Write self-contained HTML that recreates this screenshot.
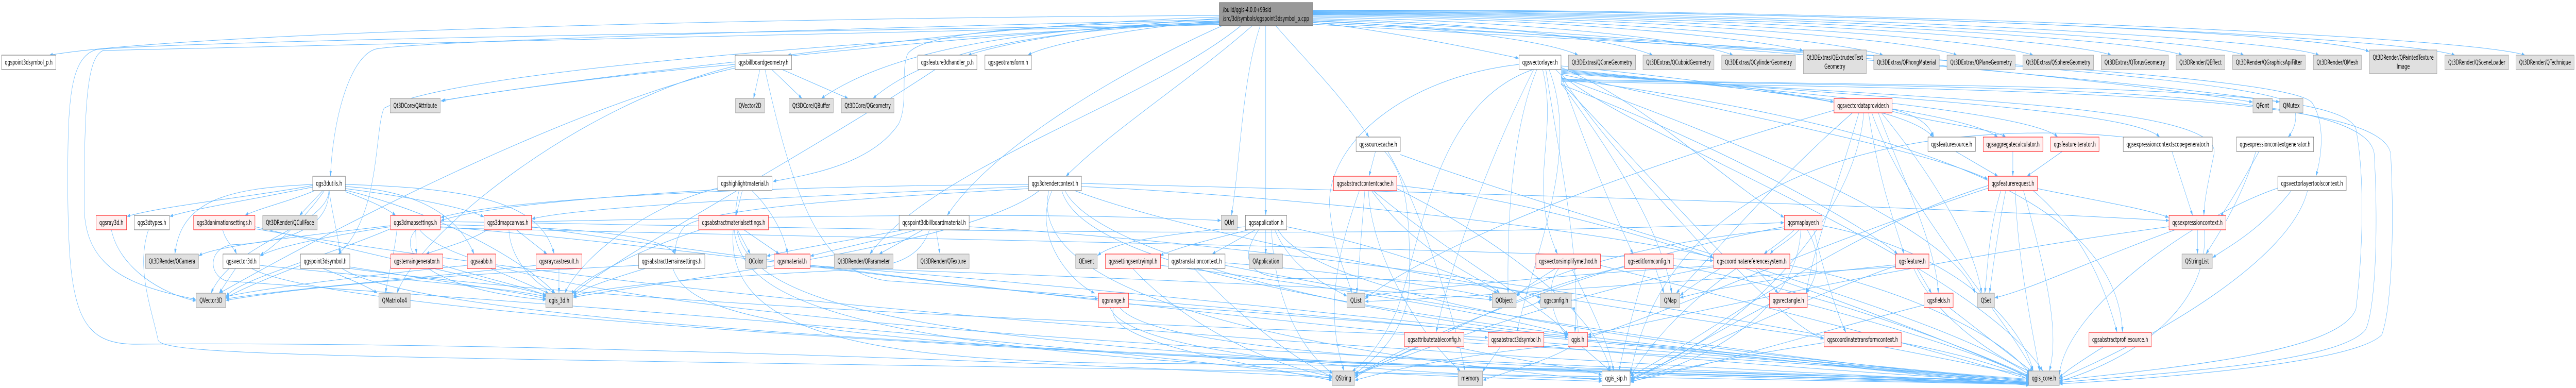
<!DOCTYPE html>
<html>
<head>
<meta charset="utf-8">
<style>
html,body{margin:0;padding:0;background:#fff;width:100%;height:100%;overflow:hidden;}
svg{display:block;width:100vw;height:100vh;}
.w{fill:#ffffff;stroke:#666666;stroke-width:1;}
.g{fill:#e0e0e0;stroke:#999999;stroke-width:1;}
.r{fill:#fff0f0;stroke:#ff0000;stroke-width:1;}
.root{fill:#999999;stroke:#666666;stroke-width:1;}
text{font-family:"DejaVu Sans","Liberation Sans",sans-serif;font-size:13px;fill:#000;}
.e path{fill:none;stroke:#63b8ff;stroke-width:1;}
</style>
</head>
<body>
<svg viewBox="0 0 7982 753" preserveAspectRatio="none" xmlns="http://www.w3.org/2000/svg">
<defs>
<marker id="a" viewBox="0 0 10 7" refX="10" refY="3.5" markerWidth="10" markerHeight="7" markerUnits="userSpaceOnUse" orient="auto"><path d="M0,0L10,3.5L0,7z" fill="#63b8ff"/></marker>
</defs>
<g class="e" marker-end="url(#a)">
<!-- root edges -->
<path d="M3778,30 C2000,36 500,70 153,107"/>
<path d="M3778,33 C3200,45 2650,90 2440,107"/>
<path d="M3778,36 C3400,50 3100,85 3000,107"/>
<path d="M3778,40 C3500,55 3250,85 3185,107"/>
<path d="M3778,38 C2600,55 1300,80 1165,95 C1080,110 1030,240 1024,342"/>
<path d="M3778,44 C2600,80 1400,140 1190,210 C1160,250 1180,420 1048,493"/>
<path d="M3778,42 C3000,65 1900,140 1370,195"/>
<path d="M3778,41 C3200,48 2860,62 2812,105 C2790,140 2815,200 2785,240 C2700,320 2500,340 2395,352"/>
<path d="M3778,43 C3300,52 2800,80 2545,191"/>
<path d="M3778,45 C3300,56 2900,85 2705,191"/>
<path d="M3787,50 C3500,130 3080,280 2935,418"/>
<path d="M3845,50 C3550,200 2900,320 2695,493"/>
<path d="M3880,50 C3700,150 3450,250 3303,342"/>
<path d="M3905,50 C3850,150 3845,300 3816,418"/>
<path d="M3922,50 L3922,418"/>
<path d="M3953,50 C4050,120 4150,180 4242,266"/>
<path d="M4068,43 C4300,60 4550,92 4706,113"/>
<path d="M4068,40 C4400,50 4780,75 4890,107"/>
<path d="M4068,36 C4500,42 4980,70 5121,107"/>
<path d="M4068,33 C4600,38 5220,70 5370,107"/>
<path d="M4068,31 C4700,34 5350,65 5587,98"/>
<path d="M4068,29 C4800,31 5650,70 5835,107"/>
<path d="M4068,28 C4900,28 5900,70 6064,107"/>
<path d="M4068,27 C5000,26 6120,70 6300,107"/>
<path d="M4068,26 C5100,24 6370,70 6542,107"/>
<path d="M4068,25 C5200,22 6600,70 6762,107"/>
<path d="M4068,24 C5300,20 6800,70 6953,107"/>
<path d="M4068,23 C5400,18 7030,70 7186,107"/>
<path d="M4068,22 C5500,16 7180,60 7341,100"/>
<path d="M4068,21 C5600,15 7430,70 7607,107"/>
<path d="M4068,20 C5700,14 7650,70 7824,107"/>
<path d="M4068,38 C5000,60 6500,150 6980,198"/>
<path d="M4068,41 C5000,70 6700,160 7063,198"/>
<path d="M4068,44 C5500,90 7050,150 7105,205 C7125,230 7105,255 7090,266"/>
<path d="M4068,47 C5500,100 7100,140 7165,200 C7205,240 7195,300 7176,342"/>
<path d="M3778,47 C2000,65 600,80 300,96 C215,110 210,200 210,350 C210,600 240,668 420,668 C1500,662 3200,700 4127,733"/>
<path d="M3778,48 C2000,72 800,85 320,98 C270,110 261,200 261,400 C261,520 400,555 607,581"/>
<!-- qgsvectorlayer.h -->
<path d="M4707,125 C4350,150 4110,280 4120,400 C4130,490 4180,540 4188,569"/>
<path d="M4750,135 C4450,200 4410,450 4330,600 C4280,670 4220,710 4190,720"/>
<path d="M4752,135 C4620,300 4500,500 4450,645"/>
<path d="M4762,135 C4680,260 4670,450 4673,569"/>
<path d="M4780,135 C4830,260 4730,360 4826,493"/>
<path d="M4790,135 C4830,300 4900,500 4880,645"/>
<path d="M4837,128 C5200,150 5500,175 5682,198"/>
<path d="M4837,131 C5100,200 5300,330 5528,422"/>
<path d="M4837,134 C5400,170 5900,200 5990,266"/>
<path d="M4837,136 C5500,175 6100,220 6190,266"/>
<path d="M4837,138 C5600,180 6300,220 6376,266"/>
<path d="M4837,140 C5700,185 6600,210 6692,266"/>
<path d="M4837,142 C5800,190 6900,195 6860,300 C6840,360 6830,390 6829,418"/>
<path d="M4800,135 C4900,300 4750,500 4700,645"/>
<path d="M4820,135 C5000,250 6100,500 6330,720"/>
<path d="M4837,144 C5600,250 6000,300 6160,348"/>
<path d="M4837,146 C4950,350 5030,450 5060,493"/>
<path d="M4837,148 C5000,300 5200,420 5309,502"/>
<path d="M4837,150 C5500,300 6050,450 6120,569"/>
<path d="M4837,152 C6000,250 6560,400 6577,645"/>
<path d="M4837,154 C6200,170 7250,160 7300,250 C7330,350 7320,500 7300,600 C7250,680 6800,710 6381,738"/>
<path d="M4837,156 C6300,170 7340,170 7357,300 C7370,450 7360,600 7330,640 C7250,700 6800,720 6381,742"/>
<path d="M4837,158 C6300,175 7390,180 7408,300 C7420,450 7410,600 7380,650 C7300,700 6800,730 6381,745"/>
<path d="M4837,160 C5200,400 5500,620 5651,658"/>
<path d="M4837,162 C5000,300 5150,450 5180,569"/>
<path d="M4837,164 C5400,300 5800,450 5880,493"/>
<!-- qgsvectordataprovider.h -->
<path d="M5740,219 C5500,350 5300,500 5194,569"/>
<path d="M5790,219 C5820,350 5880,450 5900,493"/>
<path d="M5863,212 C5950,225 5980,245 5992,266"/>
<path d="M5775,219 C5750,420 5400,650 5052,734"/>
<path d="M5683,214 C5200,300 4500,450 4229,580"/>
<path d="M5800,219 C5900,400 6200,600 6300,720"/>
<path d="M5820,219 C5900,350 6000,480 6006,569"/>
<path d="M5760,219 C5700,350 5620,480 5596,569"/>
<path d="M5830,219 C6000,350 6120,480 6140,569"/>
<path d="M5863,216 C6000,240 6180,250 6215,266"/>
<!-- qgsmaplayer.h -->
<path d="M5560,446 C5520,470 5480,485 5466,493"/>
<path d="M5575,446 C5540,470 5500,480 5485,493"/>
<path d="M5600,446 C5650,500 5630,540 5596,569"/>
<path d="M5646,438 C6000,480 6250,600 6300,720"/>
<path d="M5580,446 C5570,600 5300,700 5052,738"/>
<path d="M5620,446 C5660,550 5700,620 5720,645"/>
<path d="M5529,440 C5000,500 4400,650 4198,730"/>
<path d="M5529,444 C5100,470 4800,530 4699,572"/>
<!-- crs -->
<path d="M5330,521 C5280,540 5230,560 5206,574"/>
<path d="M5440,521 L5510,569"/>
<path d="M5380,521 C5200,600 5100,680 5052,730"/>
<path d="M5546,515 C5900,560 6200,650 6290,725"/>
<path d="M5310,518 C4900,560 4400,680 4198,728"/>
<path d="M5310,516 C4900,530 4400,560 4230,575"/>
<!-- editformconfig -->
<path d="M5130,521 L5156,569"/>
<path d="M5100,521 C5060,600 5030,680 5016,720"/>
<path d="M5185,515 C5600,560 6000,650 6290,730"/>
<path d="M5034,518 C4700,560 4400,680 4198,726"/>
<!-- feature -->
<path d="M5940,521 L5985,569"/>
<path d="M5874,516 C5500,600 5200,700 5052,736"/>
<path d="M5930,521 C6000,620 6200,700 6295,722"/>
<path d="M5874,514 C5600,530 5300,560 5206,578"/>
<path d="M5874,518 C5300,540 4500,580 4230,585"/>
<!-- rect, fields, ctc -->
<path d="M5483,590 C5300,650 5150,710 5052,738"/>
<path d="M5600,590 C5900,640 6200,700 6290,735"/>
<path d="M6040,597 C6150,650 6250,700 6300,722"/>
<path d="M5962,592 C5600,650 5300,710 5052,740"/>
<path d="M5891,665 C6100,690 6250,720 6287,738"/>
<path d="M5652,665 C5400,690 5150,720 5052,742"/>
<!-- feature request etc -->
<path d="M6200,370 C6160,450 6160,520 6150,569"/>
<path d="M6215,370 C6190,450 6175,520 6165,569"/>
<path d="M6313,366 C6500,390 6650,405 6720,422"/>
<path d="M6245,370 C6250,500 6300,650 6320,720"/>
<path d="M6270,370 C6350,550 6380,650 6350,720"/>
<path d="M6161,360 C5700,450 5300,650 5052,730"/>
<path d="M6161,365 C5600,480 5200,600 4920,655"/>
<path d="M6300,370 C6450,450 6520,550 6560,645"/>
<path d="M6237,294 L6237,342"/>
<path d="M6390,294 L6281,342"/>
<path d="M6060,294 L6191,342"/>
<path d="M6730,294 L6794,418"/>
<path d="M7000,294 C6950,350 6905,400 6880,420"/>
<path d="M6990,294 C6950,380 6880,450 6835,493"/>
<path d="M7150,370 C7100,500 6700,650 6381,735"/>
<path d="M7100,370 C7000,450 6900,480 6856,500"/>
<path d="M7058,365 C6800,420 6400,600 6381,728"/>
<path d="M6809,446 L6809,493"/>
<path d="M6740,446 C6500,500 6300,560 6181,578"/>
<path d="M6830,446 C6850,600 6600,700 6381,740"/>
<path d="M6721,440 C6000,500 5300,600 4920,650"/>
<path d="M6520,672 C6450,700 6400,720 6381,733"/>
<path d="M6580,266 C6200,240 5200,250 5052,725"/>
<!-- source cache / content cache -->
<path d="M4262,294 L4242,342"/>
<path d="M4290,294 C4360,340 4370,420 4367,550 C4360,650 4250,700 4198,726"/>
<path d="M4339,300 C5000,450 6000,600 6290,728"/>
<path d="M4300,294 C4400,400 4500,600 4540,720"/>
<path d="M4229,370 L4204,569"/>
<path d="M4250,370 C4400,500 4600,540 4647,569"/>
<path d="M4212,370 C4150,480 4100,600 4165,720"/>
<path d="M4328,360 C5000,400 6000,650 6290,732"/>
<path d="M4240,370 C4250,500 4400,650 4525,720"/>
<path d="M4255,370 C4500,500 4800,600 4860,650"/>
<path d="M4328,366 C4600,450 4950,600 4990,720"/>
<!-- qgis.h and low nodes -->
<path d="M4860,668 C4500,690 4300,720 4198,738"/>
<path d="M4870,672 C4800,700 4650,725 4595,738"/>
<path d="M4900,672 L4990,720"/>
<path d="M4919,660 C5500,690 6000,730 6287,742"/>
<path d="M4820,521 C4760,545 4720,560 4699,575"/>
<path d="M4830,521 C4780,560 4820,630 4855,651"/>
<path d="M4870,521 C4950,620 4990,680 5000,720"/>
<path d="M4959,515 C5500,600 6000,680 6287,736"/>
<path d="M4400,672 C4300,700 4220,720 4198,734"/>
<path d="M4536,665 C5200,690 6000,720 6287,744"/>
<path d="M4500,672 C4700,700 4900,715 4964,728"/>
<path d="M4650,672 C4620,700 4600,715 4594,722"/>
<path d="M4784,665 C5300,690 6000,720 6287,738"/>
<path d="M4720,597 C4760,590 4770,585 4773,580"/>
<path d="M4890,645 C4890,620 4880,600 4870,597"/>
<!-- qgsapplication -->
<path d="M3859,440 C3600,455 3450,470 3401,496"/>
<path d="M3870,446 C3750,465 3650,480 3595,496"/>
<path d="M3890,446 L3756,493"/>
<path d="M3922,446 L3922,493"/>
<path d="M3987,440 C4300,480 4550,540 4640,569"/>
<path d="M3960,446 C4100,600 5500,700 6287,736"/>
<path d="M3940,446 C3950,600 4050,690 4130,725"/>
<path d="M3950,446 C4000,520 4100,550 4174,575"/>
<path d="M3900,446 C3820,520 3900,545 4050,540 C4500,540 4700,560 4774,578"/>
<path d="M3596,515 C4200,560 4700,620 4860,650"/>
<path d="M3510,521 C3700,650 4000,720 4128,730"/>
<path d="M3796,515 C4500,600 5500,700 6287,740"/>
<path d="M3700,521 C3900,650 4050,710 4130,732"/>
<path d="M3796,510 C4200,530 4500,560 4625,578"/>
<path d="M3497,590 C4000,610 4600,640 4859,655"/>
<path d="M3470,597 C3600,700 5000,720 6287,740"/>
<path d="M3440,597 C3500,700 4500,730 4964,735"/>
<path d="M3450,597 C3420,660 3800,700 4128,738"/>
<!-- qgs3drendercontext -->
<path d="M3260,370 C3200,450 3300,540 3392,569"/>
<path d="M3187,358 C2500,360 1600,380 1366,422"/>
<path d="M3290,370 C3350,500 4000,620 6287,738"/>
<path d="M3220,370 C3000,480 2000,550 1776,577"/>
<path d="M3351,362 C4000,380 5000,450 5309,500"/>
<path d="M3300,370 C3400,500 4300,620 4859,652"/>
<path d="M3187,362 C2500,380 1800,400 1648,425"/>
<path d="M3330,370 C3800,480 5000,600 5651,656"/>
<path d="M3250,370 C3200,500 3500,650 4964,738"/>
<path d="M3187,366 C2800,380 2200,400 2120,440 C2095,460 2092,480 2092,493"/>
<path d="M3351,356 C4200,370 5600,390 6721,428"/>
<!-- billboard material -->
<path d="M2800,446 C2600,470 2450,485 2376,497"/>
<path d="M2840,446 C2700,470 2580,485 2511,497"/>
<path d="M2860,446 L2724,493"/>
<path d="M2900,446 L2913,493"/>
<path d="M2880,446 C2850,500 2780,520 2600,525 C2100,540 1850,560 1776,575"/>
<path d="M3003,440 C3800,470 5000,560 6287,730"/>
<!-- highlight material -->
<path d="M2300,370 L2281,418"/>
<path d="M2330,370 C2380,400 2430,450 2440,493"/>
<path d="M2224,365 C2000,400 1800,500 1750,569"/>
<path d="M2290,370 C2200,600 2600,700 6287,745"/>
<path d="M2224,368 C1900,380 1500,400 1366,428"/>
<!-- abstract material settings -->
<path d="M2285,446 L2325,493"/>
<path d="M2305,446 L2415,493"/>
<path d="M2170,446 C2000,480 1800,540 1770,572"/>
<path d="M2272,446 C2250,620 2550,700 3500,705 C4500,710 5500,720 6287,746"/>
<path d="M2275,446 C2300,600 2700,700 4964,740"/>
<path d="M2000,521 C1900,540 1800,560 1776,575"/>
<path d="M2085,521 C2150,640 2600,690 6287,742"/>
<path d="M1979,515 C1500,530 1000,550 700,583"/>
<path d="M2510,515 C3500,560 5500,700 6287,748"/>
<path d="M2510,518 C3500,540 4300,560 4625,582"/>
<!-- billboard geometry -->
<path d="M2355,134 L2335,191"/>
<path d="M2390,134 L2485,191"/>
<path d="M2420,134 L2628,191"/>
<path d="M2278,125 C2000,140 1600,170 1366,196"/>
<path d="M2278,132 C1800,200 1100,420 680,569"/>
<path d="M2370,134 C2470,420 2560,530 2750,545 C4000,600 5500,700 6287,745"/>
<path d="M2278,128 C1800,200 1300,450 1230,569"/>
<path d="M2900,134 C2500,300 1900,500 1776,571"/>
<!-- qgs3dutils -->
<path d="M969,360 C800,380 500,400 393,420"/>
<path d="M969,363 C800,385 600,405 526,420"/>
<path d="M975,370 C900,390 800,405 759,418"/>
<path d="M1000,370 L928,418"/>
<path d="M969,358 C700,365 560,390 542,493"/>
<path d="M1005,370 C950,420 850,480 806,495"/>
<path d="M1019,370 C1015,440 720,470 654,569"/>
<path d="M1070,372 C1150,390 1200,405 1226,418"/>
<path d="M1070,366 C1300,385 1450,405 1499,421"/>
<path d="M1070,362 C1300,370 1420,420 1469,493"/>
<path d="M1070,358 C1500,365 1680,400 1717,493"/>
<path d="M1070,369 C1400,420 1650,520 1720,569"/>
<path d="M1020,370 C1030,420 1050,460 1053,493"/>
<path d="M1019,370 C1020,440 900,470 720,475 C650,480 640,530 700,545 C1000,560 3000,640 4128,734"/>
<!-- left group -->
<path d="M690,446 C700,470 725,480 733,493"/>
<path d="M790,440 C1200,500 1600,560 1692,572"/>
<path d="M790,444 C1500,520 3000,650 6287,744"/>
<path d="M345,446 C370,520 500,570 607,584"/>
<path d="M460,446 C420,520 470,600 490,660 C505,700 1500,690 6287,746"/>
<path d="M730,521 L679,569"/>
<path d="M805,515 C1200,540 1600,560 1692,576"/>
<path d="M780,521 C1000,600 3000,700 6287,743"/>
<path d="M1000,521 C1100,545 1150,560 1169,569"/>
<path d="M1084,518 C1300,540 1600,565 1692,580"/>
<path d="M931,515 C850,535 750,560 700,578"/>
<path d="M1060,521 C1300,620 3000,690 6287,745"/>
<path d="M1084,521 C2000,600 4000,640 4611,655"/>
<path d="M1288,446 L1290,493"/>
<path d="M1290,446 C1230,480 1300,560 1692,582"/>
<path d="M1210,440 C1000,460 850,480 806,497"/>
<path d="M1210,438 C900,460 650,480 616,497"/>
<path d="M1364,440 C2000,470 3000,560 3403,580"/>
<path d="M1364,436 C1700,440 2050,450 2092,493"/>
<path d="M1230,446 C1220,500 1200,540 1195,569"/>
<path d="M1300,446 C1500,600 3500,690 6287,740"/>
<path d="M1364,442 C2500,460 4500,480 5309,506"/>
<path d="M1210,444 C1000,500 750,540 700,575"/>
<path d="M1600,446 L1695,493"/>
<path d="M1577,446 C1580,500 1650,550 1720,569"/>
<path d="M1510,446 C1450,470 1350,485 1320,493"/>
<path d="M1647,440 C2500,520 4500,680 6287,742"/>
<path d="M1372,515 C1500,540 1650,560 1692,574"/>
<path d="M1520,521 L1700,569"/>
<path d="M1448,515 C1200,530 800,560 700,576"/>
<path d="M1732,521 L1732,569"/>
<path d="M1661,515 C1300,540 900,560 700,580"/>
<path d="M1364,430 C2500,440 4000,470 5528,432"/>
<path d="M1647,430 C2500,420 3200,410 3783,428"/>
</g>

<!-- root -->
<rect class="root" x="3778" y="5" width="290" height="45"/>
<text x="3789" y="23.5" textLength="150" lengthAdjust="spacingAndGlyphs">/build/qgis-4.0.0+99sid</text>
<text x="3789" y="40.5" textLength="267" lengthAdjust="spacingAndGlyphs">/src/3d/symbols/qgspoint3dsymbol_p.cpp</text>

<g text-anchor="middle">
<!-- rank A -->
<rect class="w" x="5" y="107" width="168" height="28"/><text x="89" y="125.5" textLength="148" lengthAdjust="spacingAndGlyphs">qgspoint3dsymbol_p.h</text>
<rect class="w" x="2278" y="107" width="175" height="28"/><text x="2365.5" y="125.5" textLength="155" lengthAdjust="spacingAndGlyphs">qgsbillboardgeometry.h</text>
<rect class="w" x="2844" y="107" width="183" height="28"/><text x="2935.5" y="125.5" textLength="163" lengthAdjust="spacingAndGlyphs">qgsfeature3dhandler_p.h</text>
<rect class="w" x="3052" y="107" width="144" height="28"/><text x="3124" y="125.5" textLength="124" lengthAdjust="spacingAndGlyphs">qgsgeotransform.h</text>
<rect class="w" x="4707" y="107" width="130" height="28"/><text x="4772" y="125.5" textLength="110" lengthAdjust="spacingAndGlyphs">qgsvectorlayer.h</text>
<rect class="g" x="4860" y="107" width="208" height="28"/><text x="4964" y="125.5" textLength="188" lengthAdjust="spacingAndGlyphs">Qt3DExtras/QConeGeometry</text>
<rect class="g" x="5091" y="107" width="220" height="28"/><text x="5201" y="125.5" textLength="200" lengthAdjust="spacingAndGlyphs">Qt3DExtras/QCuboidGeometry</text>
<rect class="g" x="5335" y="107" width="228" height="28"/><text x="5449" y="125.5" textLength="208" lengthAdjust="spacingAndGlyphs">Qt3DExtras/QCylinderGeometry</text>
<rect class="g" x="5588" y="97" width="195" height="46"/><text x="5685.5" y="116" textLength="175" lengthAdjust="spacingAndGlyphs">Qt3DExtras/QExtrudedText</text><text x="5685.5" y="133.5">Geometry</text>
<rect class="g" x="5806" y="107" width="203" height="28"/><text x="5907.5" y="125.5" textLength="183" lengthAdjust="spacingAndGlyphs">Qt3DExtras/QPhongMaterial</text>
<rect class="g" x="6033" y="107" width="211" height="28"/><text x="6138.5" y="125.5" textLength="191" lengthAdjust="spacingAndGlyphs">Qt3DExtras/QPlaneGeometry</text>
<rect class="g" x="6268" y="107" width="219" height="28"/><text x="6377.5" y="125.5" textLength="199" lengthAdjust="spacingAndGlyphs">Qt3DExtras/QSphereGeometry</text>
<rect class="g" x="6511" y="107" width="208" height="28"/><text x="6615" y="125.5" textLength="188" lengthAdjust="spacingAndGlyphs">Qt3DExtras/QTorusGeometry</text>
<rect class="g" x="6743" y="107" width="151" height="28"/><text x="6818.5" y="125.5" textLength="131" lengthAdjust="spacingAndGlyphs">Qt3DRender/QEffect</text>
<rect class="g" x="6918" y="107" width="225" height="28"/><text x="7030.5" y="125.5" textLength="205" lengthAdjust="spacingAndGlyphs">Qt3DRender/QGraphicsApiFilter</text>
<rect class="g" x="7168" y="107" width="149" height="28"/><text x="7242.5" y="125.5" textLength="129" lengthAdjust="spacingAndGlyphs">Qt3DRender/QMesh</text>
<rect class="g" x="7342" y="97" width="209" height="46"/><text x="7446.5" y="116" textLength="189" lengthAdjust="spacingAndGlyphs">Qt3DRender/QPaintedTexture</text><text x="7446.5" y="133.5">Image</text>
<rect class="g" x="7576" y="107" width="197" height="28"/><text x="7674.5" y="125.5" textLength="177" lengthAdjust="spacingAndGlyphs">Qt3DRender/QSceneLoader</text>
<rect class="g" x="7796" y="107" width="180" height="28"/><text x="7886" y="125.5" textLength="160" lengthAdjust="spacingAndGlyphs">Qt3DRender/QTechnique</text>

<!-- rank B -->
<rect class="g" x="1209" y="191" width="155" height="28"/><text x="1286.5" y="209.5" textLength="135" lengthAdjust="spacingAndGlyphs">Qt3DCore/QAttribute</text>
<rect class="g" x="2279" y="191" width="90" height="28"/><text x="2324" y="209.5" textLength="70" lengthAdjust="spacingAndGlyphs">QVector2D</text>
<rect class="g" x="2445" y="191" width="137" height="28"/><text x="2513.5" y="209.5" textLength="117" lengthAdjust="spacingAndGlyphs">Qt3DCore/QBuffer</text>
<rect class="g" x="2607" y="191" width="163" height="28"/><text x="2688.5" y="209.5" textLength="143" lengthAdjust="spacingAndGlyphs">Qt3DCore/QGeometry</text>
<rect class="r" x="5683" y="191" width="180" height="28"/><text x="5773" y="209.5" textLength="160" lengthAdjust="spacingAndGlyphs">qgsvectordataprovider.h</text>
<rect class="g" x="6981" y="191" width="60" height="28"/><text x="7011" y="209.5" textLength="40" lengthAdjust="spacingAndGlyphs">QFont</text>
<rect class="g" x="7064" y="191" width="72" height="28"/><text x="7100" y="209.5" textLength="52" lengthAdjust="spacingAndGlyphs">QMutex</text>

<!-- rank C -->
<rect class="w" x="4202" y="266" width="137" height="28"/><text x="4270.5" y="284.5" textLength="117" lengthAdjust="spacingAndGlyphs">qgssourcecache.h</text>
<rect class="w" x="5974" y="266" width="147" height="28"/><text x="6047.5" y="284.5" textLength="127" lengthAdjust="spacingAndGlyphs">qgsfeaturesource.h</text>
<rect class="r" x="6145" y="266" width="185" height="28"/><text x="6237.5" y="284.5" textLength="165" lengthAdjust="spacingAndGlyphs">qgsaggregatecalculator.h</text>
<rect class="r" x="6354" y="266" width="150" height="28"/><text x="6429" y="284.5" textLength="130" lengthAdjust="spacingAndGlyphs">qgsfeatureiterator.h</text>
<rect class="w" x="6579" y="266" width="276" height="28"/><text x="6717" y="284.5" textLength="256" lengthAdjust="spacingAndGlyphs">qgsexpressioncontextscopegenerator.h</text>
<rect class="w" x="6930" y="266" width="239" height="28"/><text x="7049.5" y="284.5" textLength="219" lengthAdjust="spacingAndGlyphs">qgsexpressioncontextgenerator.h</text>

<!-- rank D -->
<rect class="w" x="969" y="342" width="101" height="28"/><text x="1019.5" y="360.5" textLength="81" lengthAdjust="spacingAndGlyphs">qgs3dutils.h</text>
<rect class="w" x="2224" y="342" width="168" height="28"/><text x="2308" y="360.5" textLength="148" lengthAdjust="spacingAndGlyphs">qgshighlightmaterial.h</text>
<rect class="w" x="3187" y="342" width="164" height="28"/><text x="3269" y="360.5" textLength="144" lengthAdjust="spacingAndGlyphs">qgs3drendercontext.h</text>
<rect class="r" x="4132" y="342" width="196" height="28"/><text x="4230" y="360.5" textLength="176" lengthAdjust="spacingAndGlyphs">qgsabstractcontentcache.h</text>
<rect class="r" x="6161" y="342" width="152" height="28"/><text x="6237" y="360.5" textLength="132" lengthAdjust="spacingAndGlyphs">qgsfeaturerequest.h</text>
<rect class="w" x="7058" y="342" width="212" height="28"/><text x="7164" y="360.5" textLength="192" lengthAdjust="spacingAndGlyphs">qgsvectorlayertoolscontext.h</text>

<!-- rank E -->
<rect class="r" x="298" y="418" width="94" height="28"/><text x="345" y="436.5" textLength="74" lengthAdjust="spacingAndGlyphs">qgsray3d.h</text>
<rect class="w" x="416" y="418" width="109" height="28"/><text x="470.5" y="436.5" textLength="89" lengthAdjust="spacingAndGlyphs">qgs3dtypes.h</text>
<rect class="r" x="600" y="418" width="190" height="28"/><text x="695" y="436.5" textLength="170" lengthAdjust="spacingAndGlyphs">qgs3danimationsettings.h</text>
<rect class="g" x="814" y="418" width="169" height="28"/><text x="898.5" y="436.5" textLength="149" lengthAdjust="spacingAndGlyphs">Qt3DRender/QCullFace</text>
<rect class="r" x="1210" y="418" width="154" height="28"/><text x="1287" y="436.5" textLength="134" lengthAdjust="spacingAndGlyphs">qgs3dmapsettings.h</text>
<rect class="r" x="1500" y="418" width="147" height="28"/><text x="1573.5" y="436.5" textLength="127" lengthAdjust="spacingAndGlyphs">qgs3dmapcanvas.h</text>
<rect class="r" x="2165" y="418" width="216" height="28"/><text x="2273" y="436.5" textLength="196" lengthAdjust="spacingAndGlyphs">qgsabstractmaterialsettings.h</text>
<rect class="w" x="2786" y="418" width="217" height="28"/><text x="2894.5" y="436.5" textLength="197" lengthAdjust="spacingAndGlyphs">qgspoint3dbillboardmaterial.h</text>
<rect class="g" x="3784" y="418" width="50" height="28"/><text x="3809" y="436.5" textLength="30" lengthAdjust="spacingAndGlyphs">QUrl</text>
<rect class="w" x="3859" y="418" width="128" height="28"/><text x="3923" y="436.5" textLength="108" lengthAdjust="spacingAndGlyphs">qgsapplication.h</text>
<rect class="r" x="5529" y="418" width="117" height="28"/><text x="5587.5" y="436.5" textLength="97" lengthAdjust="spacingAndGlyphs">qgsmaplayer.h</text>
<rect class="r" x="6721" y="418" width="176" height="28"/><text x="6809" y="436.5" textLength="156" lengthAdjust="spacingAndGlyphs">qgsexpressioncontext.h</text>

<!-- rank F -->
<rect class="g" x="451" y="493" width="164" height="28"/><text x="533" y="511.5" textLength="144" lengthAdjust="spacingAndGlyphs">Qt3DRender/QCamera</text>
<rect class="w" x="691" y="493" width="114" height="28"/><text x="748" y="511.5" textLength="94" lengthAdjust="spacingAndGlyphs">qgsvector3d.h</text>
<rect class="w" x="931" y="493" width="153" height="28"/><text x="1007.5" y="511.5" textLength="133" lengthAdjust="spacingAndGlyphs">qgspoint3dsymbol.h</text>
<rect class="r" x="1211" y="493" width="161" height="28"/><text x="1291.5" y="511.5" textLength="141" lengthAdjust="spacingAndGlyphs">qgsterraingenerator.h</text>
<rect class="r" x="1448" y="493" width="88" height="28"/><text x="1492" y="511.5" textLength="68" lengthAdjust="spacingAndGlyphs">qgsaabb.h</text>
<rect class="r" x="1661" y="493" width="142" height="28"/><text x="1732" y="511.5" textLength="122" lengthAdjust="spacingAndGlyphs">qgsraycastresult.h</text>
<rect class="w" x="1979" y="493" width="205" height="28"/><text x="2081.5" y="511.5" textLength="185" lengthAdjust="spacingAndGlyphs">qgsabstractterrainsettings.h</text>
<rect class="g" x="2310" y="493" width="65" height="28"/><text x="2342.5" y="511.5" textLength="45" lengthAdjust="spacingAndGlyphs">QColor</text>
<rect class="r" x="2399" y="493" width="111" height="28"/><text x="2454.5" y="511.5" textLength="91" lengthAdjust="spacingAndGlyphs">qgsmaterial.h</text>
<rect class="g" x="2585" y="493" width="182" height="28"/><text x="2676" y="511.5" textLength="162" lengthAdjust="spacingAndGlyphs">Qt3DRender/QParameter</text>
<rect class="g" x="2842" y="493" width="161" height="28"/><text x="2922.5" y="511.5" textLength="141" lengthAdjust="spacingAndGlyphs">Qt3DRender/QTexture</text>
<rect class="g" x="3333" y="493" width="67" height="28"/><text x="3366.5" y="511.5" textLength="47" lengthAdjust="spacingAndGlyphs">QEvent</text>
<rect class="r" x="3425" y="493" width="171" height="28"/><text x="3510.5" y="511.5" textLength="151" lengthAdjust="spacingAndGlyphs">qgssettingsentryimpl.h</text>
<rect class="w" x="3620" y="493" width="176" height="28"/><text x="3708" y="511.5" textLength="156" lengthAdjust="spacingAndGlyphs">qgstranslationcontext.h</text>
<rect class="g" x="3871" y="493" width="103" height="28"/><text x="3922.5" y="511.5" textLength="83" lengthAdjust="spacingAndGlyphs">QApplication</text>
<rect class="r" x="4759" y="493" width="200" height="28"/><text x="4859" y="511.5" textLength="180" lengthAdjust="spacingAndGlyphs">qgsvectorsimplifymethod.h</text>
<rect class="r" x="5034" y="493" width="151" height="28"/><text x="5109.5" y="511.5" textLength="131" lengthAdjust="spacingAndGlyphs">qgseditformconfig.h</text>
<rect class="r" x="5310" y="493" width="236" height="28"/><text x="5428" y="511.5" textLength="216" lengthAdjust="spacingAndGlyphs">qgscoordinatereferencesystem.h</text>
<rect class="r" x="5874" y="493" width="103" height="28"/><text x="5925.5" y="511.5" textLength="83" lengthAdjust="spacingAndGlyphs">qgsfeature.h</text>
<rect class="g" x="6761" y="493" width="94" height="28"/><text x="6808" y="511.5" textLength="74" lengthAdjust="spacingAndGlyphs">QStringList</text>

<!-- rank G -->
<rect class="g" x="608" y="569" width="91" height="28"/><text x="653.5" y="587.5" textLength="71" lengthAdjust="spacingAndGlyphs">QVector3D</text>
<rect class="g" x="1174" y="569" width="97" height="28"/><text x="1222.5" y="587.5" textLength="77" lengthAdjust="spacingAndGlyphs">QMatrix4x4</text>
<rect class="g" x="1691" y="569" width="83" height="28"/><text x="1732.5" y="587.5" textLength="63" lengthAdjust="spacingAndGlyphs">qgis_3d.h</text>
<rect class="r" x="3404" y="569" width="93" height="28"/><text x="3450.5" y="587.5" textLength="73" lengthAdjust="spacingAndGlyphs">qgsrange.h</text>
<rect class="g" x="4174" y="569" width="55" height="28"/><text x="4201.5" y="587.5" textLength="35" lengthAdjust="spacingAndGlyphs">QList</text>
<rect class="g" x="4624" y="569" width="74" height="28"/><text x="4661" y="587.5" textLength="54" lengthAdjust="spacingAndGlyphs">QObject</text>
<rect class="g" x="4774" y="569" width="95" height="28"/><text x="4821.5" y="587.5" textLength="75" lengthAdjust="spacingAndGlyphs">qgsconfig.h</text>
<rect class="g" x="5146" y="569" width="59" height="28"/><text x="5175.5" y="587.5" textLength="39" lengthAdjust="spacingAndGlyphs">QMap</text>
<rect class="r" x="5483" y="569" width="117" height="28"/><text x="5541.5" y="587.5" textLength="97" lengthAdjust="spacingAndGlyphs">qgsrectangle.h</text>
<rect class="r" x="5962" y="569" width="90" height="28"/><text x="6007" y="587.5" textLength="70" lengthAdjust="spacingAndGlyphs">qgsfields.h</text>
<rect class="g" x="6128" y="569" width="52" height="28"/><text x="6154" y="587.5" textLength="32" lengthAdjust="spacingAndGlyphs">QSet</text>

<!-- rank H -->
<rect class="r" x="4352" y="645" width="184" height="28"/><text x="4444" y="663.5" textLength="164" lengthAdjust="spacingAndGlyphs">qgsattributetableconfig.h</text>
<rect class="r" x="4611" y="645" width="173" height="28"/><text x="4697.5" y="663.5" textLength="153" lengthAdjust="spacingAndGlyphs">qgsabstract3dsymbol.h</text>
<rect class="r" x="4859" y="645" width="60" height="28"/><text x="4889" y="663.5" textLength="40" lengthAdjust="spacingAndGlyphs">qgis.h</text>
<rect class="r" x="5652" y="645" width="239" height="28"/><text x="5771.5" y="663.5" textLength="219" lengthAdjust="spacingAndGlyphs">qgscoordinatetransformcontext.h</text>
<rect class="r" x="6473" y="645" width="193" height="28"/><text x="6569.5" y="663.5" textLength="173" lengthAdjust="spacingAndGlyphs">qgsabstractprofilesource.h</text>

<!-- rank I -->
<rect class="g" x="4128" y="720" width="69" height="28"/><text x="4162.5" y="738.5" textLength="49" lengthAdjust="spacingAndGlyphs">QString</text>
<rect class="g" x="4518" y="720" width="76" height="28"/><text x="4556" y="738.5" textLength="56" lengthAdjust="spacingAndGlyphs">memory</text>
<rect class="w" x="4964" y="720" width="87" height="28"/><text x="5007.5" y="738.5" textLength="67" lengthAdjust="spacingAndGlyphs">qgis_sip.h</text>
<rect class="g" x="6286" y="720" width="95" height="28"/><text x="6333.5" y="738.5" textLength="75" lengthAdjust="spacingAndGlyphs">qgis_core.h</text>
</g>
</svg>
</body>
</html>
